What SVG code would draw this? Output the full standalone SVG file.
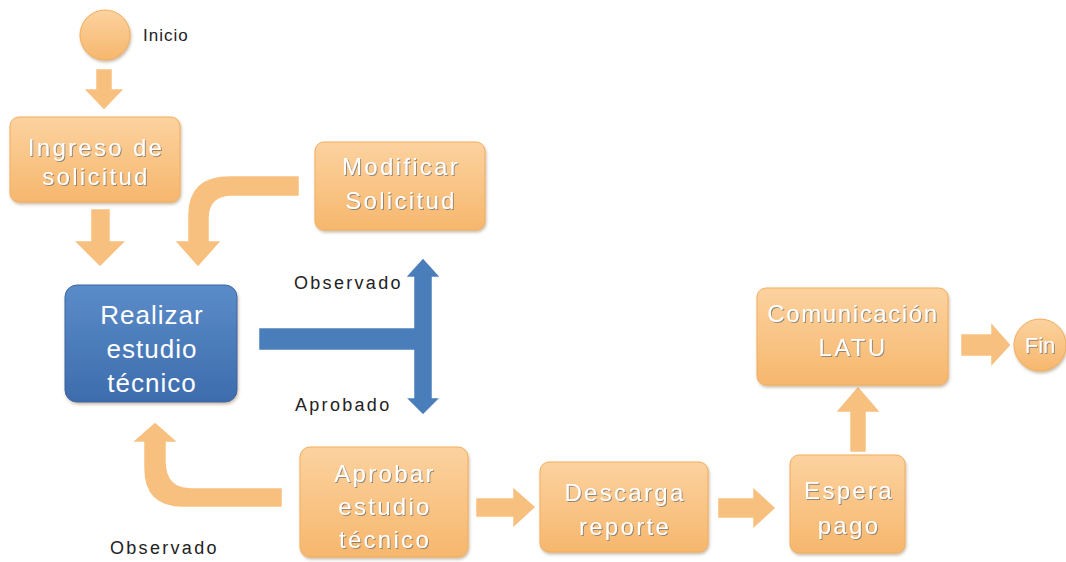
<svg xmlns="http://www.w3.org/2000/svg" width="1066" height="562" viewBox="0 0 1066 562">
<defs>
<linearGradient id="og" x1="0" y1="0" x2="0" y2="1"><stop offset="0" stop-color="#fcd29f"/><stop offset="1" stop-color="#f6b76d"/></linearGradient>
<linearGradient id="bg" x1="0" y1="0" x2="0" y2="1"><stop offset="0" stop-color="#5b8cc8"/><stop offset="1" stop-color="#3d6cad"/></linearGradient>
<filter id="sh" x="-10%" y="-10%" width="130%" height="130%"><feDropShadow dx="1" dy="2" stdDeviation="1.5" flood-color="#8a6a40" flood-opacity="0.45"/></filter>
<filter id="ts" x="-10%" y="-20%" width="130%" height="150%"><feDropShadow dx="1" dy="1" stdDeviation="0.6" flood-color="#6b6b6b" flood-opacity="0.7"/></filter>
<style>
.ob{fill:url(#og);stroke:#f3ad5c;stroke-width:1;filter:url(#sh)}
.bb{fill:url(#bg);stroke:#3a66a3;stroke-width:1;filter:url(#sh)}
.ar{fill:#f8c07f;stroke:#ffffff;stroke-width:2.5;stroke-linejoin:miter}
.ba{fill:#4a7ebb;stroke:#ffffff;stroke-width:2.5}
.wt{font-family:"Liberation Sans",Arial,sans-serif;font-size:24px;fill:#ffffff;text-anchor:middle;letter-spacing:2.3px;filter:url(#ts)}
.bt{font-family:"Liberation Sans",Arial,sans-serif;font-size:26px;fill:#ffffff;text-anchor:middle;letter-spacing:1px}
.lb{font-family:"Liberation Sans",Arial,sans-serif;font-size:18px;fill:#222222;letter-spacing:2.3px}
</style>
</defs>
<rect width="1066" height="562" fill="#ffffff"/>
<g id="connectors">
<polygon class="ar" points="95,68 113,68 113,88 126,88 104,111 82,88 95,88"/>
<polygon class="ar" points="90,208 111,208 111,240 128,240 100,268 72,240 90,240"/>
<path class="ar" d="M300,175 L230,175 Q187,175 187,215 L187,240 L173,240 L198,268 L223,240 L210,240 L210,218 Q210,197 232,197 L300,197 Z"/>
<path class="ba" d="M258,327 L413,327 L413,278 L404,278 L423,257 L442,278 L433,278 L433,397 L442,397 L423,416 L404,397 L413,397 L413,351 L258,351 Z"/>
<path class="ar" d="M283,487 L192,487 Q167,487 167,462 L167,443 L180,443 L155,421 L130,443 L143,443 L143,468 Q143,508 183,508 L283,508 Z"/>
<polygon class="ar" points="475,497 512,497 512,485 537,507 512,530 512,518 475,518"/>
<polygon class="ar" points="717,497 752,497 752,485 777,508 752,531 752,519 717,519"/>
<polygon class="ar" points="849,453 867,453 867,413 882,413 858,385 834,413 849,413"/>
<polygon class="ar" points="960,333 990,333 990,320 1012,345 990,369 990,357 960,357"/>
</g>
<g id="inicio"><circle class="ob" cx="105" cy="35" r="25"/><text class="lb" x="143" y="41" style="font-size:17px;letter-spacing:1px">Inicio</text></g>
<g id="ingreso"><rect class="ob" x="10" y="117" width="170" height="85" rx="9"/><text class="wt" x="96" y="156">Ingreso de</text><text class="wt" x="96" y="185">solicitud</text></g>
<g id="modificar"><rect class="ob" x="315" y="142" width="170" height="88" rx="9"/><text class="wt" x="401" y="175">Modificar</text><text class="wt" x="401" y="209">Solicitud</text></g>
<g id="realizar"><rect class="bb" x="65" y="285" width="172" height="117" rx="12"/><text class="bt" x="152" y="324">Realizar</text><text class="bt" x="152" y="358">estudio</text><text class="bt" x="152" y="392">técnico</text></g>
<g id="labels"><text class="lb" x="294" y="289">Observado</text><text class="lb" x="295" y="411">Aprobado</text><text class="lb" x="110" y="554">Observado</text></g>
<g id="aprobar"><rect class="ob" x="300" y="447" width="168" height="110" rx="10"/><text class="wt" x="385" y="482">Aprobar</text><text class="wt" x="385" y="515">estudio</text><text class="wt" x="385" y="548">técnico</text></g>
<g id="descarga"><rect class="ob" x="540" y="462" width="168" height="90" rx="9"/><text class="wt" x="625" y="501">Descarga</text><text class="wt" x="625" y="535">reporte</text></g>
<g id="espera"><rect class="ob" x="790" y="455" width="115" height="98" rx="9"/><text class="wt" x="849" y="499">Espera</text><text class="wt" x="849" y="534">pago</text></g>
<g id="comunicacion"><rect class="ob" x="757" y="288" width="191" height="97" rx="9"/><text class="wt" x="853" y="322" style="letter-spacing:1.6px">Comunicación</text><text class="wt" x="853" y="356">LATU</text></g>
<g id="fin"><circle class="ob" cx="1040" cy="345" r="26"/><text class="wt" x="1040" y="353" style="font-size:22px;letter-spacing:0">Fin</text></g>
</svg>
